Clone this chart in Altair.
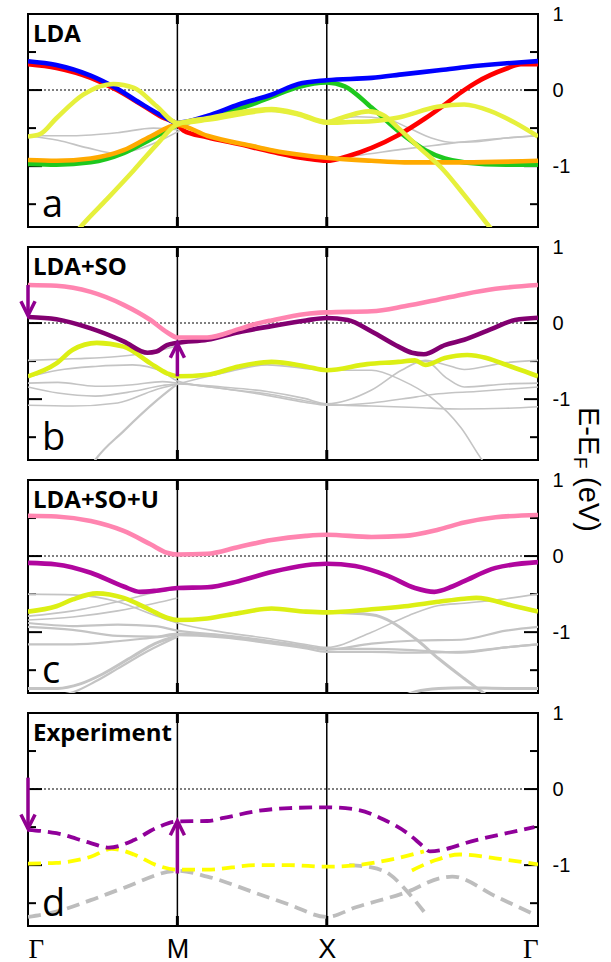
import altair as alt
import pandas as pd

# ---------------- geometry of k-path (Γ-M-X-Γ) ----------------
K_M, K_X, K_G2 = 1.0, 2.0, 3.414
E_MIN, E_MAX = -1.8, 1.0
W, H = 510, 213

k_ticks = [0.0, K_M, K_X, K_G2]
k_names = ["Γ", "M", "X", "Γ"]
e_labels = [-1, 0, 1]
e_major = [0.0, -1.0]
e_minor = [0.5, -0.5, -1.5]

panel_titles = ["LDA", "LDA+SO", "LDA+SO+U", "Experiment"]
panel_letters = ["a", "b", "c", "d"]
ytitle_parts = ["E-E", "F", "(eV)"]

# ---------------- panel a : LDA ----------------
a_blue_k = [0, 0.19, 0.42, 0.595, 0.75, 0.9, 1.0, 1.2, 1.41, 1.63, 1.81, 2.0, 2.3, 2.52, 2.75, 2.92, 3.26, 3.414]
a_blue_e = [0.38, 0.33, 0.19, 0.02, -0.17, -0.34, -0.43, -0.34, -0.19, -0.06, 0.08, 0.13, 0.16, 0.21, 0.26, 0.30, 0.36, 0.38]
a_red_k = [0, 0.19, 0.42, 0.595, 0.75, 0.9, 1.0, 1.04, 1.2, 1.41, 1.63, 1.86, 2.0, 2.14, 2.3, 2.48, 2.66, 2.79, 2.92, 3.0, 3.2, 3.3, 3.414]
a_red_e = [0.34, 0.29, 0.16, 0.0, -0.18, -0.36, -0.45, -0.53, -0.62, -0.71, -0.81, -0.90, -0.93, -0.87, -0.76, -0.59, -0.37, -0.19, 0.0, 0.10, 0.28, 0.34, 0.34]
a_orange_k = [0, 0.19, 0.42, 0.64, 0.82, 1.0, 1.2, 1.51, 1.63, 1.86, 2.0, 2.3, 2.52, 2.92, 3.414]
a_orange_e = [-0.92, -0.93, -0.90, -0.79, -0.61, -0.46, -0.60, -0.74, -0.79, -0.86, -0.89, -0.93, -0.95, -0.95, -0.93]
a_green_k = [0, 0.19, 0.42, 0.64, 0.82, 1.0, 1.2, 1.51, 1.63, 1.81, 2.0, 2.12, 2.3, 2.48, 2.66, 2.79, 2.92, 3.2, 3.414]
a_green_e = [-0.97, -0.98, -0.95, -0.83, -0.65, -0.46, -0.36, -0.18, -0.09, 0.04, 0.10, 0.05, -0.23, -0.54, -0.79, -0.90, -0.95, -0.98, -0.98]
a_yel1_k = [0, 0.08, 0.19, 0.37, 0.57, 0.71, 0.86, 1.0, 1.2, 1.5, 1.63, 1.81, 2.0, 2.15, 2.3, 2.48, 2.74, 2.92, 3.1, 3.26, 3.414]
a_yel1_e = [-0.61, -0.58, -0.37, -0.06, 0.08, 0.03, -0.21, -0.43, -0.39, -0.29, -0.26, -0.32, -0.43, -0.42, -0.41, -0.36, -0.22, -0.19, -0.28, -0.43, -0.61]
a_yel2_k = [0.3, 0.36, 0.53, 0.71, 0.86, 1.0, 1.2, 1.5, 1.63, 1.81, 2.0, 2.12, 2.28, 2.38, 2.48, 2.61, 2.79, 2.92, 3.09, 3.15]
a_yel2_e = [-1.92, -1.78, -1.43, -1.05, -0.72, -0.45, -0.37, -0.27, -0.25, -0.31, -0.42, -0.35, -0.28, -0.33, -0.50, -0.74, -1.07, -1.38, -1.80, -1.95]
a_grey1_k = [0, 0.3, 0.6, 0.84, 1.0, 1.2, 1.5, 1.8, 2.0, 2.2, 2.5, 2.75, 2.92, 3.2, 3.414]
a_grey1_e = [-0.6, -0.6, -0.56, -0.5, -0.52, -0.62, -0.72, -0.85, -0.9, -0.86, -0.78, -0.72, -0.68, -0.63, -0.6]
a_grey2_k = [0, 0.2, 0.4, 0.58, 0.75, 0.9, 1.0, 1.2, 1.5, 1.8, 2.0, 2.2, 2.4, 2.55, 2.7, 2.85, 3.0, 3.2, 3.414]
a_grey2_e = [-0.6, -0.66, -0.76, -0.83, -0.77, -0.65, -0.55, -0.32, -0.27, -0.31, -0.41, -0.35, -0.38, -0.5, -0.63, -0.69, -0.68, -0.63, -0.6]

# ---------------- panel b : LDA+SO ----------------
b_pink_k = [0, 0.19, 0.42, 0.64, 0.82, 0.93, 1.0, 1.2, 1.41, 1.51, 1.63, 1.86, 2.0, 2.3, 2.52, 2.75, 2.92, 3.13, 3.414]
b_pink_e = [0.50, 0.49, 0.41, 0.24, 0.04, -0.12, -0.19, -0.19, -0.08, -0.02, 0.035, 0.12, 0.14, 0.155, 0.22, 0.31, 0.38, 0.45, 0.50]
b_purp_k = [0, 0.19, 0.42, 0.64, 0.8, 0.86, 0.93, 1.0, 1.2, 1.41, 1.63, 1.86, 2.0, 2.14, 2.3, 2.48, 2.57, 2.65, 2.79, 2.92, 3.1, 3.26, 3.414]
b_purp_e = [0.08, 0.05, -0.07, -0.24, -0.39, -0.375, -0.29, -0.26, -0.22, -0.12, -0.04, 0.035, 0.066, 0.04, -0.11, -0.31, -0.39, -0.41, -0.29, -0.22, -0.08, 0.04, 0.07]
b_yel_k = [0, 0.19, 0.3, 0.46, 0.64, 0.82, 0.93, 1.0, 1.2, 1.41, 1.63, 1.86, 2.0, 2.27, 2.48, 2.59, 2.66, 2.79, 2.94, 3.26, 3.414]
b_yel_e = [-0.70, -0.53, -0.35, -0.26, -0.31, -0.53, -0.66, -0.70, -0.68, -0.57, -0.51, -0.57, -0.62, -0.54, -0.51, -0.49, -0.55, -0.46, -0.42, -0.59, -0.70]
b_g1_k = [0, 0.3, 0.6, 0.85, 1.0]
b_g1_e = [-0.49, -0.47, -0.44, -0.37, -0.30]
b_g2_k = [0, 0.2, 0.45, 0.7, 0.9, 1.0, 1.3, 1.6, 1.85, 2.0, 2.3, 2.6, 2.9, 3.2, 3.414]
b_g2_e = [-0.71, -0.62, -0.57, -0.55, -0.64, -0.76, -0.86, -0.93, -1.02, -1.07, -1.09, -1.11, -1.13, -1.12, -1.10]
b_g3_k = [0, 0.2, 0.45, 0.7, 0.9, 1.0, 1.3, 1.6, 1.85, 2.0, 2.3, 2.6, 2.75, 3.0, 3.414]
b_g3_e = [-0.79, -0.78, -0.83, -0.81, -0.77, -0.79, -0.86, -0.95, -1.04, -1.08, -1.05, -0.97, -0.93, -0.90, -0.84]
b_g4_k = [0, 0.2, 0.45, 0.7, 0.9, 1.0, 1.3, 1.6, 1.85, 2.0, 2.3, 2.5, 2.66, 2.8, 2.92, 3.2, 3.414]
b_g4_e = [-0.84, -0.92, -0.96, -0.90, -0.82, -0.80, -0.84, -0.90, -0.99, -1.06, -0.88, -0.62, -0.49, -0.55, -0.61, -0.52, -0.49]
b_g5_k = [0, 0.3, 0.6, 0.85, 1.0, 1.3, 1.6, 2.0, 2.3, 2.5, 2.7, 2.9, 3.04, 3.1]
b_g5_e = [-1.08, -1.09, -1.05, -0.88, -0.80, -0.66, -0.55, -0.62, -0.62, -0.75, -0.98, -1.38, -1.80, -1.95]
b_g6_k = [0.4, 0.45, 0.64, 0.86, 1.0]
b_g6_e = [-1.95, -1.80, -1.42, -1.02, -0.80]
b_g7_k = [2.5, 2.66, 2.8, 2.92, 3.2, 3.414]
b_g7_e = [-0.52, -0.50, -0.72, -0.84, -0.80, -0.79]

# ---------------- panel c : LDA+SO+U ----------------
c_pink_k = [0, 0.19, 0.42, 0.64, 0.82, 0.93, 1.0, 1.2, 1.41, 1.63, 1.86, 2.0, 2.3, 2.52, 2.75, 2.92, 3.13, 3.414]
c_pink_e = [0.53, 0.52, 0.46, 0.33, 0.155, 0.044, 0.02, 0.03, 0.12, 0.21, 0.265, 0.28, 0.25, 0.265, 0.35, 0.44, 0.51, 0.54]
c_mag_k = [0, 0.19, 0.42, 0.64, 0.75, 0.86, 1.0, 1.2, 1.41, 1.63, 1.86, 2.0, 2.19, 2.41, 2.59, 2.72, 2.84, 2.92, 3.13, 3.414]
c_mag_e = [-0.09, -0.11, -0.22, -0.40, -0.47, -0.455, -0.42, -0.41, -0.33, -0.21, -0.12, -0.10, -0.13, -0.26, -0.42, -0.47, -0.40, -0.33, -0.155, -0.08]
c_yel_k = [0, 0.19, 0.3, 0.46, 0.64, 0.82, 0.93, 1.0, 1.2, 1.41, 1.63, 1.86, 2.0, 2.3, 2.52, 2.75, 2.92, 3.0, 3.26, 3.414]
c_yel_e = [-0.73, -0.66, -0.57, -0.49, -0.55, -0.71, -0.81, -0.84, -0.82, -0.75, -0.69, -0.73, -0.74, -0.70, -0.66, -0.60, -0.56, -0.55, -0.66, -0.73]
c_g1_k = [0, 0.3, 0.6, 0.85, 1.0, 1.3, 1.6, 1.85, 2.0, 2.3, 2.55, 2.75, 2.92, 3.2, 3.414]
c_g1_e = [-0.50, -0.51, -0.60, -0.78, -0.88, -1.0, -1.08, -1.16, -1.20, -1.0, -0.78, -0.65, -0.62, -0.56, -0.50]
c_g2_k = [0, 0.3, 0.6, 0.85, 1.0]
c_g2_e = [-0.79, -0.72, -0.60, -0.48, -0.43]
c_g3_k = [0, 0.3, 0.6, 0.85, 1.0]
c_g3_e = [-0.84, -0.80, -0.72, -0.62, -0.55]
c_g4_k = [0, 0.3, 0.6, 0.85, 1.0, 1.3, 1.6, 1.85, 2.0, 2.3, 2.6, 2.9, 3.2, 3.414]
c_g4_e = [-0.88, -0.92, -0.90, -0.92, -0.98, -1.04, -1.11, -1.18, -1.22, -1.22, -1.24, -1.27, -1.20, -1.16]
c_g5_k = [0, 0.3, 0.6, 0.85, 1.0, 1.3, 1.6, 1.85, 2.0, 2.3, 2.6, 2.9, 3.2, 3.414]
c_g5_e = [-0.93, -0.97, -1.05, -1.06, -1.02, -1.06, -1.12, -1.19, -1.23, -1.15, -1.11, -1.10, -0.98, -0.93]
c_g6_k = [0, 0.3, 0.6, 0.85, 1.0, 1.3, 1.6, 1.85, 2.0, 2.3, 2.6, 2.9, 3.2, 3.414]
c_g6_e = [-1.16, -1.16, -1.12, -1.07, -1.04, -1.07, -1.14, -1.21, -1.26, -1.26, -1.27, -1.26, -1.20, -1.16]
c_g7_k = [2.0, 2.3, 2.59, 2.75, 2.92, 3.05, 3.15]
c_g7_e = [-0.74, -0.77, -1.08, -1.35, -1.61, -1.80, -1.95]
c_g8_k = [0, 0.2, 0.35, 0.5, 0.7, 0.85, 1.0]
c_g8_e = [-1.74, -1.74, -1.68, -1.55, -1.32, -1.15, -1.05]
c_g9_k = [0.1, 0.3, 0.45, 0.6, 0.8, 1.0]
c_g9_e = [-1.85, -1.79, -1.65, -1.48, -1.25, -1.06]
c_g10_k = [2.5, 2.6, 2.75, 2.92, 3.2, 3.414]
c_g10_e = [-1.85, -1.78, -1.74, -1.73, -1.74, -1.74]

# ---------------- panel d : Experiment ----------------
d_purp_k = [0, 0.19, 0.42, 0.54, 0.71, 0.86, 1.0, 1.2, 1.31, 1.53, 1.75, 2.0, 2.2, 2.38, 2.54, 2.65, 2.69, 3.0, 3.39]
d_purp_e = [-0.535, -0.58, -0.71, -0.77, -0.67, -0.51, -0.425, -0.42, -0.38, -0.29, -0.25, -0.24, -0.27, -0.40, -0.58, -0.76, -0.82, -0.67, -0.50]
d_yel1_k = [0, 0.19, 0.42, 0.56, 0.71, 0.86, 1.0, 1.2, 1.53, 1.75, 2.0, 2.2, 2.42, 2.65]
d_yel1_e = [-0.98, -0.97, -0.89, -0.785, -0.86, -1.0, -1.06, -1.06, -1.0, -1.0, -1.02, -1.0, -0.93, -0.82]
d_yel2_k = [2.57, 2.72, 2.89, 3.13, 3.414]
d_yel2_e = [-1.07, -0.94, -0.86, -0.91, -0.99]
d_grey1_k = [0, 0.19, 0.42, 0.64, 1.0, 1.2, 1.53, 1.75, 2.0, 2.2, 2.54, 2.76, 2.84, 3.13, 3.39]
d_grey1_e = [-1.68, -1.61, -1.46, -1.30, -1.075, -1.15, -1.37, -1.52, -1.68, -1.55, -1.35, -1.17, -1.15, -1.41, -1.65]
d_grey2_k = [2.15, 2.3, 2.42, 2.54, 2.67]
d_grey2_e = [-1.0, -1.03, -1.12, -1.35, -1.66]

# arrows (k, start energy, tip energy)
b_arrow_k = [0.0, 1.0]
b_arrow_from = [0.50, -0.70]
b_arrow_to = [0.10, -0.27]
d_arrow_k = [0.0, 1.0]
d_arrow_from = [0.15, -1.11]
d_arrow_to = [-0.52, -0.42]

GREY = "#c4c4c4"
ARROW = "#900090"
LW = 4.6


def x_enc(bottom):
    if bottom:
        ax = alt.Axis(values=k_ticks, ticks=False, tickSize=0, domain=False, grid=False,
                      labelExpr="datum.value == 1 ? 'M' : (datum.value == 2 ? 'X' : 'Γ')",
                      labelFontSize=27, labelColor="black", labelPadding=10,
                      labelFont={"condition": {"test": "datum.value < 0.5 || datum.value > 3",
                                               "value": "Liberation Serif"},
                                 "value": "Liberation Sans"},
                      title=None)
    else:
        ax = None
    return alt.X("k:Q", scale=alt.Scale(domain=[0, K_G2], nice=False, zero=False), axis=ax)


Y_ENC = alt.Y("E:Q", scale=alt.Scale(domain=[E_MIN, E_MAX], nice=False, zero=False),
              axis=alt.Axis(orient="right", values=e_labels, ticks=False, tickSize=0, domain=False,
                            grid=False, labelExpr="'' + datum.value", labelFontSize=20,
                            labelFont="Liberation Sans", labelColor="black", labelPadding=14,
                            title=None))


def line(k, e, color, width, xe, dash=None):
    kw = dict(color=color, strokeWidth=width, interpolate="monotone", clip=True)
    if dash:
        kw["strokeDash"] = dash
        kw["strokeCap"] = "butt"
    return alt.Chart(pd.DataFrame({"k": k, "E": e})).mark_line(**kw).encode(x=xe, y=Y_ENC)


def frame_layers(xe):
    layers = []
    layers.append(alt.Chart(pd.DataFrame({"E": [0.0]})).mark_rule(
        color="black", strokeWidth=1.1, strokeDash=[2, 2]).encode(y=Y_ENC))
    layers.append(alt.Chart(pd.DataFrame({"k": [K_M, K_X]})).mark_rule(
        color="black", strokeWidth=1.5).encode(x=xe))
    kt = pd.DataFrame({"k": [K_M, K_X]})
    layers.append(alt.Chart(kt).mark_rule(color="black", strokeWidth=3).encode(
        x=xe, y=alt.value(0), y2=alt.value(10)))
    layers.append(alt.Chart(kt).mark_rule(color="black", strokeWidth=3).encode(
        x=xe, y=alt.value(H - 10), y2=alt.value(H)))
    for vals, ln in ((e_major, 14), (e_minor, 8)):
        df = pd.DataFrame({"E": vals})
        layers.append(alt.Chart(df).mark_rule(color="black", strokeWidth=2).encode(
            y=Y_ENC, x=alt.value(0), x2=alt.value(ln)))
        layers.append(alt.Chart(df).mark_rule(color="black", strokeWidth=2).encode(
            y=Y_ENC, x=alt.value(W - ln), x2=alt.value(W)))
    return layers


def label_layers(i):
    t = alt.Chart(pd.DataFrame({"t": [panel_titles[i]]})).mark_text(
        align="left", baseline="alphabetic", font="Open Sans", fontWeight="bold",
        fontSize=24, color="black").encode(x=alt.value(5), y=alt.value(28), text="t:N")
    l = alt.Chart(pd.DataFrame({"t": [panel_letters[i]]})).mark_text(
        align="left", baseline="alphabetic", font="Open Sans", fontSize=38,
        color="black").encode(x=alt.value(14), y=alt.value(203), text="t:N")
    return [t, l]


def arrow_layers(k, e0, e1, xe):
    df = pd.DataFrame({"k": k, "E": e0, "E2": e1,
                       "dir": ["down" if a > b else "up" for a, b in zip(e0, e1)]})
    shaft = alt.Chart(df).mark_rule(color=ARROW, strokeWidth=3.5).encode(x=xe, y=Y_ENC, y2="E2:Q")
    tips = df.assign(E=df["E2"])
    down = alt.Chart(tips[tips["dir"] == "down"]).mark_point(
        shape="M -1 -2 L 0 0 L 1 -2", filled=False, size=200, strokeWidth=3.5,
        color=ARROW, opacity=1).encode(x=xe, y=Y_ENC)
    up = alt.Chart(tips[tips["dir"] == "up"]).mark_point(
        shape="M -1 2 L 0 0 L 1 2", filled=False, size=200, strokeWidth=3.5,
        color=ARROW, opacity=1).encode(x=xe, y=Y_ENC)
    return [shaft, down, up]


# ---- panel a
xa = x_enc(False)
pa = alt.layer(
    *frame_layers(xa),
    line(a_grey1_k, a_grey1_e, GREY, 1.6, xa),
    line(a_grey2_k, a_grey2_e, GREY, 1.6, xa),
    line(a_green_k, a_green_e, "#1ec81e", LW, xa),
    line(a_red_k, a_red_e, "#ff0000", LW, xa),
    line(a_orange_k, a_orange_e, "#ffaa00", LW, xa),
    line(a_blue_k, a_blue_e, "#0000ff", LW, xa),
    line(a_yel2_k, a_yel2_e, "#e6f03c", LW, xa),
    line(a_yel1_k, a_yel1_e, "#e6f03c", LW, xa),
    *label_layers(0),
).properties(width=W, height=H)

# ---- panel b
xb = x_enc(False)
ytitle = [
    alt.Chart(pd.DataFrame({"t": [ytitle_parts[0]]})).mark_text(
        align="left", baseline="middle", angle=90, font="Liberation Sans", fontSize=29,
        color="black").encode(x=alt.value(W + 50), y=alt.value(160), text="t:N"),
    alt.Chart(pd.DataFrame({"t": [ytitle_parts[1]]})).mark_text(
        align="left", baseline="middle", angle=90, font="Liberation Sans", fontSize=19,
        color="black").encode(x=alt.value(W + 42), y=alt.value(210), text="t:N"),
    alt.Chart(pd.DataFrame({"t": [ytitle_parts[2]]})).mark_text(
        align="left", baseline="middle", angle=90, font="Liberation Sans", fontSize=29,
        color="black").encode(x=alt.value(W + 50), y=alt.value(230), text="t:N"),
]
pb = alt.layer(
    *frame_layers(xb),
    line(b_g1_k, b_g1_e, GREY, 1.6, xb),
    line(b_g2_k, b_g2_e, GREY, 1.6, xb),
    line(b_g3_k, b_g3_e, GREY, 1.6, xb),
    line(b_g4_k, b_g4_e, GREY, 1.6, xb),
    line(b_g5_k, b_g5_e, GREY, 1.6, xb),
    line(b_g6_k, b_g6_e, GREY, 2.2, xb),
    line(b_g7_k, b_g7_e, GREY, 1.6, xb),
    line(b_yel_k, b_yel_e, "#dcef14", LW, xb),
    line(b_purp_k, b_purp_e, "#820070", LW, xb),
    line(b_pink_k, b_pink_e, "#ff85b0", LW, xb),
    *arrow_layers(b_arrow_k, b_arrow_from, b_arrow_to, xb),
    *label_layers(1),
    *ytitle,
).properties(width=W, height=H)

# ---- panel c
xc = x_enc(False)
pc = alt.layer(
    *frame_layers(xc),
    line(c_g1_k, c_g1_e, GREY, 1.6, xc),
    line(c_g2_k, c_g2_e, GREY, 1.6, xc),
    line(c_g3_k, c_g3_e, GREY, 1.6, xc),
    line(c_g4_k, c_g4_e, GREY, 2.2, xc),
    line(c_g5_k, c_g5_e, GREY, 2.2, xc),
    line(c_g6_k, c_g6_e, GREY, 2.2, xc),
    line(c_g7_k, c_g7_e, GREY, 3, xc),
    line(c_g8_k, c_g8_e, GREY, 3, xc),
    line(c_g9_k, c_g9_e, GREY, 2.2, xc),
    line(c_g10_k, c_g10_e, GREY, 3, xc),
    line(c_yel_k, c_yel_e, "#dcef14", LW, xc),
    line(c_mag_k, c_mag_e, "#b0069e", LW, xc),
    line(c_pink_k, c_pink_e, "#ff85b0", LW, xc),
    *label_layers(2),
).properties(width=W, height=H)

# ---- panel d
xd = x_enc(True)
DASH = [13, 7]
pd_ = alt.layer(
    *frame_layers(xd),
    line(d_grey1_k, d_grey1_e, "#bdbdbd", 3.8, xd, DASH),
    line(d_grey2_k, d_grey2_e, "#bdbdbd", 3.8, xd, DASH),
    line(d_yel1_k, d_yel1_e, "#ffff00", 3.8, xd, DASH),
    line(d_yel2_k, d_yel2_e, "#ffff00", 3.8, xd, DASH),
    line(d_purp_k, d_purp_e, "#90009a", 3.8, xd, DASH),
    *arrow_layers(d_arrow_k, d_arrow_from, d_arrow_to, xd),
    *label_layers(3),
).properties(width=W, height=H)

chart = alt.vconcat(pa, pb, pc, pd_, spacing=20, bounds="flush").properties(
    padding={"left": 12, "top": 3, "right": 8, "bottom": 0},
    background="white",
).configure_view(stroke="black", strokeWidth=2)

chart.save("out.html", embed_options={"renderer": "svg", "actions": False})
